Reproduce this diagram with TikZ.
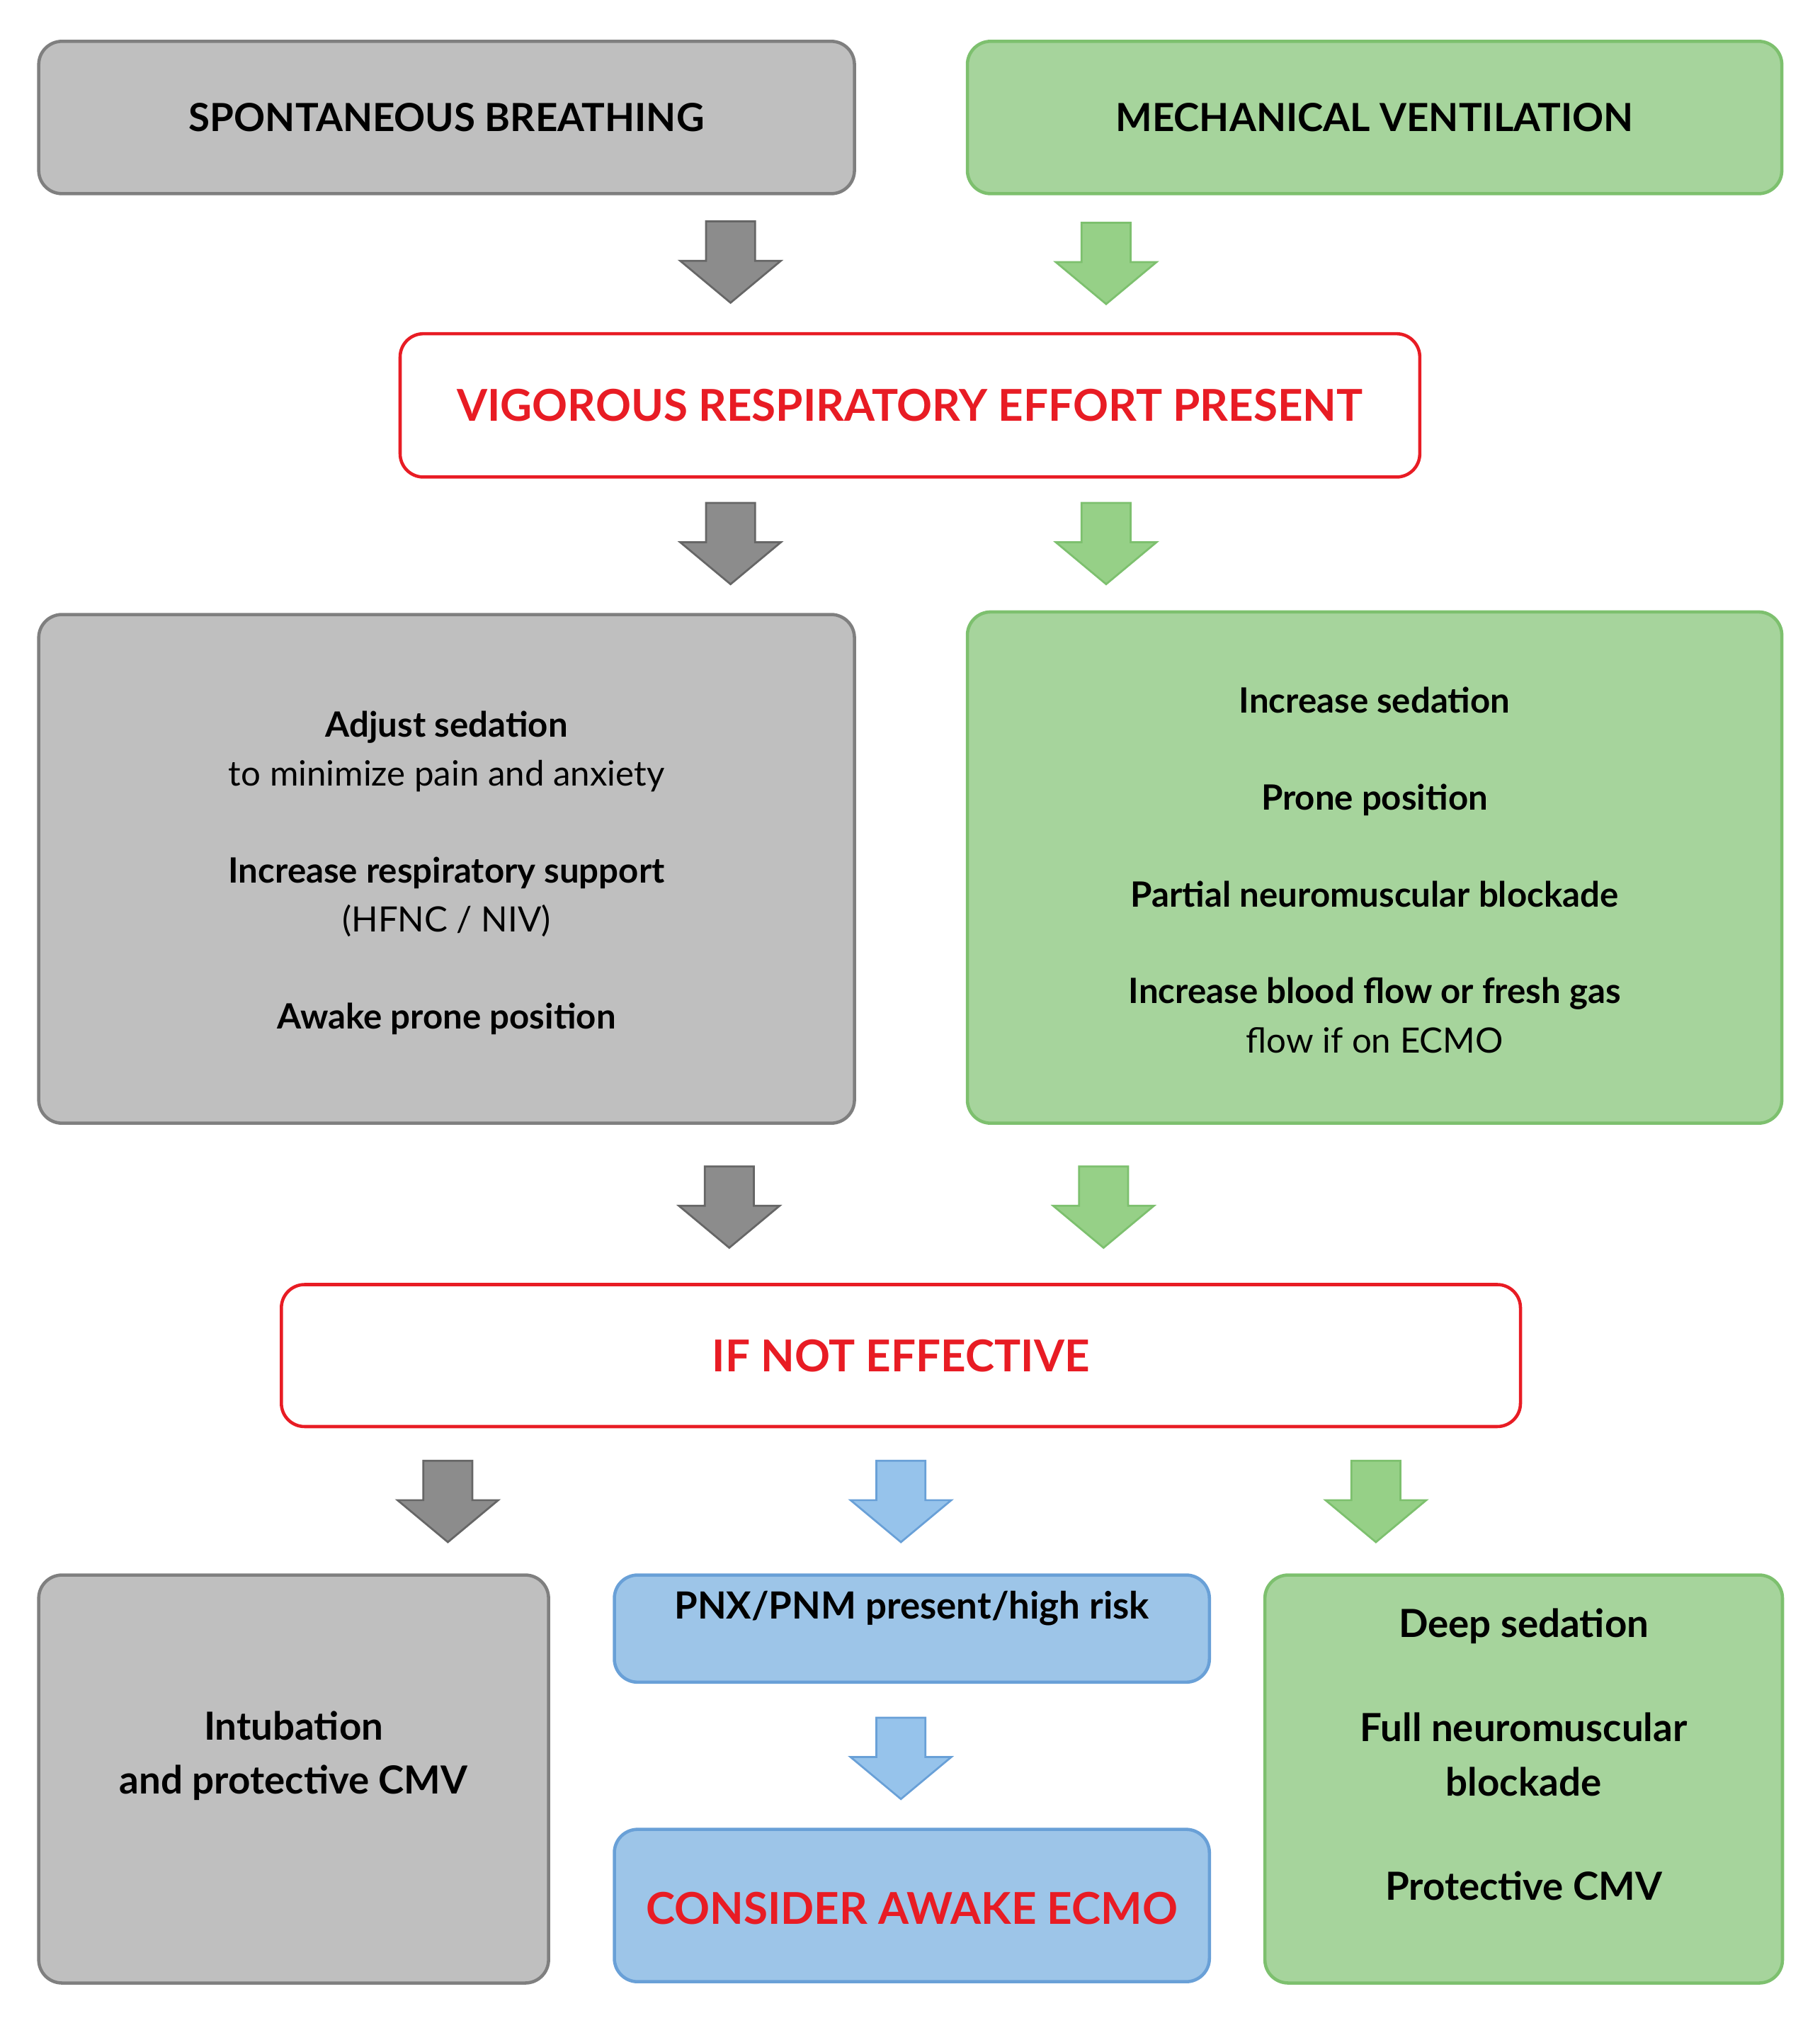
\documentclass[tikz,border=0pt]{standalone}
\usepackage{fontspec}
\setmainfont{Lato}
\definecolor{gfill}{RGB}{191,191,191}
\definecolor{gline}{RGB}{127,127,127}
\definecolor{nfill}{RGB}{166,212,156}
\definecolor{nline}{RGB}{125,192,110}
\definecolor{bfill}{RGB}{157,197,232}
\definecolor{bline}{RGB}{105,160,215}
\definecolor{rred}{RGB}{232,28,36}
\definecolor{garr}{RGB}{140,140,140}
\definecolor{narr}{RGB}{150,208,135}
\definecolor{barr}{RGB}{150,195,235}
\begin{document}
\begin{tikzpicture}[x=1pt,y=-1pt,
 box/.style={draw, line width=2.5pt, rounded corners=18pt, inner sep=0pt},
 gbox/.style={box, draw=gline, fill=gfill},
 nbox/.style={box, draw=nline, fill=nfill},
 bbox/.style={box, draw=bline, fill=bfill},
 rbox/.style={box, draw=rred, fill=white},
 txt/.style={align=center, font=\fontsize{27}{38}\selectfont},
 pics/darr/.style={code={\path[line width=1.5pt, line join=miter, #1]
   (-19,-31.5) -- (19,-31.5) -- (19,-1) -- (39,-1) -- (0,31.5) -- (-39,-1) -- (-19,-1) -- cycle;}},
 ga/.style={fill=garr, draw=gline!80!black},
 na/.style={fill=narr, draw=nline},
 ba/.style={fill=barr, draw=bline}]
\useasboundingbox (0,0) rectangle (1410,1567);
\node[gbox, minimum width=632pt, minimum height=118pt] (sb) at (346,91) {};
\node[txt, font=\fontsize{30}{36}\selectfont\bfseries] (sbt) at (sb) {SPONTANEOUS BREATHING};
\node[nbox, minimum width=631pt, minimum height=118pt] (mv) at (1065,91) {};
\node[txt, font=\fontsize{30}{36}\selectfont\bfseries] (mvt) at (mv) {MECHANICAL VENTILATION};
\pic (a1) at (566,203) {darr=ga};
\pic (a2) at (857,204) {darr=na};
\node[rbox, minimum width=790pt, minimum height=111pt] (vr) at (705,314) {};
\node[txt, text=rred, font=\fontsize{34}{40}\selectfont\bfseries] (vrt) at (vr) {VIGOROUS RESPIRATORY EFFORT PRESENT};
\pic (a3) at (566,421) {darr=ga};
\pic (a4) at (857,421) {darr=na};
\node[gbox, minimum width=632pt, minimum height=394pt] (lb) at (346,673) {};
\node[txt] (lbt) at (346,676) {\textbf{Adjust sedation}\\ to minimize pain and anxiety\\[37pt]
 \textbf{Increase respiratory support}\\ (HFNC / NIV)\\[37pt] \textbf{Awake prone position}};
\node[nbox, minimum width=631pt, minimum height=396pt] (rb) at (1065,672) {};
\node[txt] (rbt) at (1065,674) {\textbf{Increase sedation}\\[37pt] \textbf{Prone position}\\[37pt]
 \textbf{Partial neuromuscular blockade}\\[37pt] \textbf{Increase blood flow or fresh gas}\\ flow if on ECMO};
\pic (a5) at (565,935) {darr=ga};
\pic (a6) at (855,935) {darr=na};
\node[rbox, minimum width=960pt, minimum height=110pt] (ne) at (698,1050) {};
\node[txt, text=rred, font=\fontsize{34}{40}\selectfont\bfseries] (net) at (ne) {IF NOT EFFECTIVE};
\pic (a7) at (347,1163) {darr=ga};
\pic (a8) at (698,1163) {darr=ba};
\pic (a9) at (1066,1163) {darr=na};
\node[gbox, minimum width=395pt, minimum height=316pt] (il) at (227.5,1378) {};
\node[txt, font=\fontsize{30}{42}\selectfont\bfseries] (ilt) at (227.5,1360) {Intubation\\ and protective CMV};
\node[bbox, minimum width=461pt, minimum height=83pt] (pn) at (706.5,1261.5) {};
\node[txt, font=\fontsize{29}{36}\selectfont\bfseries] (pnt) at (706.5,1246) {PNX/PNM present/high risk};
\pic (a10) at (698,1362) {darr=ba};
\node[bbox, minimum width=461pt, minimum height=118pt] (ec) at (706.5,1476) {};
\node[txt, text=rred, font=\fontsize{34}{40}\selectfont\bfseries] (ect) at (706.5,1478) {CONSIDER AWAKE ECMO};
\node[nbox, minimum width=401pt, minimum height=316pt] (gr) at (1180.5,1378) {};
\node[txt, font=\fontsize{30}{42}\selectfont\bfseries] (grt) at (1180.5,1359) {Deep sedation\\[39pt] Full neuromuscular\\ blockade\\[39pt] Protective CMV};
\end{tikzpicture}
\end{document}
